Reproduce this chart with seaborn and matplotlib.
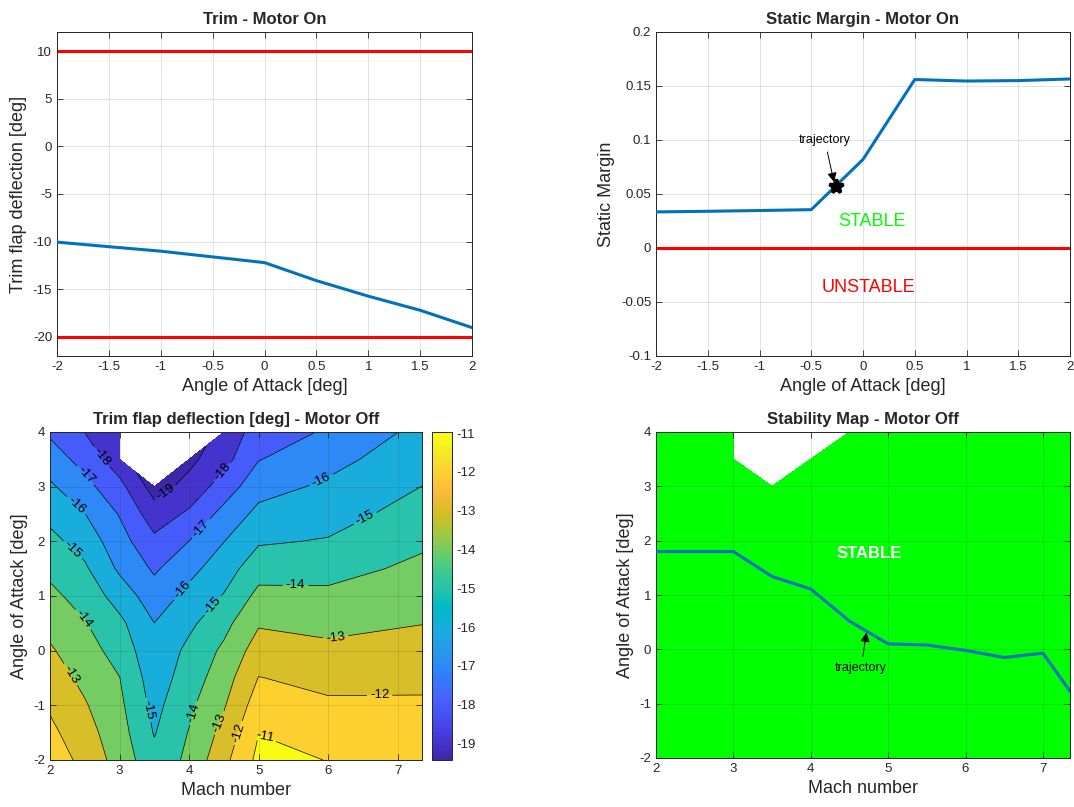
import numpy as np
import matplotlib
matplotlib.use("Agg")
import matplotlib.pyplot as plt
import seaborn as sns
from matplotlib.colors import LinearSegmentedColormap, Normalize
from matplotlib.cm import ScalarMappable
from matplotlib.ticker import FuncFormatter, MultipleLocator

# ---------------- data ----------------
aoa_on = [-2, -1.5, -1, -0.5, 0, 0.5, 1, 1.5, 2]
trim_on = [-10.05, -10.53, -11.0, -11.6, -12.2, -14.09, -15.72, -17.2, -19.02]
trim_limits = [10, -20]
static_margin_on = [0.0334, 0.0340, 0.0347, 0.0355, 0.082, 0.156, 0.1546, 0.155, 0.1565]
traj_aoa_on = -0.26
traj_sm_on = 0.057
stability_boundary = 0.0

mach = [2, 2.5, 3, 3.5, 4, 4.5, 5, 6, 7.35]
aoa_grid = [-2, -1.5, -1, -0.5, 0, 0.5, 1, 1.5, 2, 2.5, 3, 3.5, 4]
nan = np.nan
# rows: angle of attack (aoa_grid), columns: Mach number (mach)
trim_off = [
    [-11.41, -12.30, -13.40, -14.70, -13.77, -12.27, -10.75, -11.02, -11.15],
    [-11.77, -12.61, -13.59, -15.06, -13.95, -12.69, -11.02, -11.43, -11.50],
    [-12.13, -12.91, -13.79, -15.29, -14.21, -13.09, -11.49, -11.84, -11.86],
    [-12.51, -13.25, -13.98, -15.53, -14.52, -13.45, -11.97, -12.29, -12.23],
    [-12.88, -13.60, -14.37, -15.76, -14.75, -13.81, -12.53, -12.78, -12.63],
    [-13.31, -13.94, -14.77, -15.99, -15.21, -14.30, -13.10, -13.28, -13.02],
    [-13.76, -14.39, -15.42, -16.56, -15.71, -14.94, -13.73, -13.79, -13.40],
    [-14.24, -14.85, -16.17, -17.14, -16.29, -15.47, -14.41, -14.34, -13.78],
    [-14.73, -15.40, -16.61, -17.77, -16.99, -16.02, -15.11, -14.93, -14.17],
    [-15.27, -15.98, -17.06, -18.55, -17.83, -16.69, -15.73, -15.39, -14.59],
    [-15.85, -16.69, -17.69, -19.43, -18.67, -17.53, -16.38, -15.82, -14.99],
    [-16.49, -17.36, -18.60, nan, -19.25, -18.35, -17.04, -16.33, -15.35],
    [-17.16, -18.02, -18.80, nan, nan, -18.75, -17.50, -16.89, -15.70],
]
contour_levels = [-19, -18, -17, -16, -15, -14, -13, -12, -11]
color_limits = [-19.43, -10.97]

traj_mach = [2, 3, 3.5, 4, 4.5, 5, 5.5, 6, 6.5, 7, 7.35]
traj_aoa = [1.80, 1.80, 1.34, 1.11, 0.52, 0.10, 0.08, -0.02, -0.15, -0.07, -0.77]

# ---------------- style ----------------
sns.set_style("ticks")
plt.rcParams['font.family'] = ['Liberation Sans', 'DejaVu Sans']
plt.rcParams['axes.unicode_minus'] = False

parula_pts = [
    (0.2422, 0.1504, 0.6603), (0.2578, 0.1818, 0.7511), (0.2706, 0.2147, 0.8364),
    (0.2783, 0.2559, 0.8991), (0.2813, 0.3006, 0.9414), (0.2795, 0.3447, 0.9717),
    (0.2699, 0.3892, 0.9906), (0.2440, 0.4358, 0.9988), (0.1963, 0.4847, 0.9892),
    (0.1786, 0.5289, 0.9682), (0.1687, 0.5703, 0.9359), (0.1460, 0.6091, 0.9079),
    (0.1248, 0.6459, 0.8883), (0.0952, 0.6798, 0.8598), (0.0297, 0.7082, 0.8163),
    (0.0067, 0.7312, 0.7660), (0.0964, 0.7500, 0.7120), (0.1717, 0.7670, 0.6554),
    (0.2161, 0.7843, 0.5923), (0.2906, 0.7973, 0.5188), (0.3909, 0.8029, 0.4354),
    (0.5044, 0.7993, 0.3480), (0.6174, 0.7876, 0.2612), (0.7242, 0.7698, 0.1910),
    (0.8203, 0.7498, 0.1535), (0.9035, 0.7330, 0.1774), (0.9728, 0.7298, 0.2394),
    (0.9970, 0.7659, 0.2199), (0.9892, 0.8136, 0.1885), (0.9676, 0.8639, 0.1643),
    (0.9597, 0.9135, 0.1423), (0.9691, 0.9606, 0.1064), (0.9769, 0.9839, 0.0805),
]
parula = LinearSegmentedColormap.from_list("parula", parula_pts)

BLUE = '#0072BD'
AXC = '#262626'
TICK_FS = 9.5
LAB_FS = 13
TITLE_FS = 12

fmt = FuncFormatter(lambda v, p: f'{round(v, 6) + 0:g}')


def style_axes(ax, grid_on_top=False):
    ax.tick_params(direction='in', top=True, right=True, length=4, width=0.6,
                   colors=AXC, labelsize=TICK_FS, labelcolor=AXC)
    for s in ax.spines.values():
        s.set_color(AXC)
        s.set_linewidth(0.7)
    ax.grid(True, color=AXC, alpha=0.15, lw=0.6)
    ax.set_axisbelow(not grid_on_top)
    ax.xaxis.set_major_formatter(fmt)
    ax.yaxis.set_major_formatter(fmt)


W, H = 1074, 807
fig = plt.figure(figsize=(W / 100, H / 100), dpi=100)
ax1 = fig.add_axes([57 / W, 1 - 356 / H, 415 / W, 324 / H])
ax2 = fig.add_axes([656 / W, 1 - 356 / H, 414 / W, 324 / H])
ax3 = fig.add_axes([50 / W, 1 - 760 / H, 372 / W, 328 / H])
cax = fig.add_axes([432 / W, 1 - 760 / H, 20 / W, 328 / H])
ax4 = fig.add_axes([656 / W, 1 - 758 / H, 414 / W, 326 / H])

# ---- Trim - Motor On ----
for lim in trim_limits:
    ax1.axhline(lim, color='red', lw=2.2, zorder=2)
sns.lineplot(x=aoa_on, y=trim_on, ax=ax1, color=BLUE, lw=2.2, estimator=None, sort=False, zorder=3)
ax1.set_xlim(-2, 2)
ax1.set_ylim(-22, 12)
ax1.xaxis.set_major_locator(MultipleLocator(0.5))
ax1.yaxis.set_major_locator(MultipleLocator(5))
style_axes(ax1)
ax1.set_title('Trim - Motor On', fontsize=TITLE_FS, fontweight='bold')
ax1.set_xlabel('Angle of Attack [deg]', fontsize=LAB_FS, color=AXC)
ax1.set_ylabel('Trim flap deflection [deg]', fontsize=LAB_FS, color=AXC)

# ---- Static Margin - Motor On ----
ax2.axhline(stability_boundary, color='red', lw=2.2, zorder=2)
sns.lineplot(x=aoa_on, y=static_margin_on, ax=ax2, color=BLUE, lw=2.2, estimator=None, sort=False, zorder=3)
ax2.plot([traj_aoa_on], [traj_sm_on], marker='*', color='k', ms=10, mew=2.5, zorder=4)
ax2.annotate('trajectory', xy=(traj_aoa_on - 0.02, traj_sm_on + 0.004), xytext=(-0.37, 0.1),
             ha='center', va='center', fontsize=9, color='k',
             arrowprops=dict(arrowstyle='-|>', color='k', lw=0.7, mutation_scale=14,
                             shrinkA=2, shrinkB=0))
ax2.text(0.09, 0.025, 'STABLE', color='#00ff00', fontsize=LAB_FS, ha='center', va='center')
ax2.text(0.05, -0.0365, 'UNSTABLE', color='#ff0000', fontsize=LAB_FS, ha='center', va='center')
ax2.set_xlim(-2, 2)
ax2.set_ylim(-0.1, 0.2)
ax2.xaxis.set_major_locator(MultipleLocator(0.5))
ax2.yaxis.set_major_locator(MultipleLocator(0.05))
style_axes(ax2)
ax2.set_title('Static Margin - Motor On', fontsize=TITLE_FS, fontweight='bold')
ax2.set_xlabel('Angle of Attack [deg]', fontsize=LAB_FS, color=AXC)
ax2.set_ylabel('Static Margin', fontsize=LAB_FS, color=AXC)

# ---- Trim flap deflection - Motor Off (filled contour) ----
Z = np.ma.masked_invalid(np.array(trim_off, dtype=float))
MM, AA = np.meshgrid(mach, aoa_grid)
norm = Normalize(color_limits[0], color_limits[1], clip=True)
fill_levels = [float(Z.min()) - 0.01] + contour_levels + [float(Z.max()) + 0.01]
fill_colors = [parula(norm(l)) for l in fill_levels[:-1]]
ax3.contourf(MM, AA, Z, levels=fill_levels, colors=fill_colors, corner_mask=True, zorder=1)
cs = ax3.contour(MM, AA, Z, levels=contour_levels, colors='k', linewidths=0.5,
                 linestyles='solid', corner_mask=True, zorder=2)
label_pos = [
    (2.75, 3.55), (2.52, 3.22), (2.375, 2.65), (2.33, 1.85), (2.48, 0.57), (2.33, -0.41),
    (3.63, 2.95), (4.5, 3.25), (4.19, 2.21), (3.92, 1.09), (4.36, 0.81),
    (5.9, 3.13), (6.54, 2.40), (5.53, 1.18), (6.11, 0.23), (6.74, -0.84),
    (3.42, -1.08), (4.07, -1.14), (4.43, -1.32), (4.72, -1.51), (5.08, -1.6),
]
ax3.clabel(cs, manual=label_pos, inline=True, fontsize=9.5, colors='k',
           fmt=lambda v: f'{v:g}', inline_spacing=3)
ax3.set_xlim(2, 7.35)
ax3.set_ylim(-2, 4)
ax3.xaxis.set_major_locator(MultipleLocator(1))
ax3.yaxis.set_major_locator(MultipleLocator(1))
style_axes(ax3, grid_on_top=True)
ax3.set_title('Trim flap deflection [deg] - Motor Off', fontsize=TITLE_FS, fontweight='bold')
ax3.set_xlabel('Mach number', fontsize=LAB_FS, color=AXC)
ax3.set_ylabel('Angle of Attack [deg]', fontsize=LAB_FS, color=AXC)

cb = fig.colorbar(ScalarMappable(norm=Normalize(*color_limits), cmap=parula), cax=cax,
                  ticks=contour_levels)
cb.ax.yaxis.set_major_formatter(fmt)
cb.ax.tick_params(direction='in', length=3, width=0.6, colors=AXC, labelsize=TICK_FS)
cb.outline.set_edgecolor(AXC)
cb.outline.set_linewidth(0.7)

# ---- Stability Map - Motor Off ----
stable = np.ma.masked_invalid(np.where(np.isnan(np.array(trim_off, dtype=float)), np.nan, 1.0))
ax4.contourf(MM, AA, stable, levels=[0.5, 1.5], colors=['#00ff00'], corner_mask=True, zorder=1)
sns.lineplot(x=traj_mach, y=traj_aoa, ax=ax4, color=BLUE, lw=2.2, estimator=None, sort=False, zorder=3)
ax4.annotate('trajectory', xy=(4.72, 0.31), xytext=(4.65, -0.35),
             ha='center', va='center', fontsize=9, color='k',
             arrowprops=dict(arrowstyle='-|>', color='k', lw=0.7, mutation_scale=14,
                             shrinkA=2, shrinkB=0))
ax4.text(4.76, 1.76, 'STABLE', color='white', fontsize=12, fontweight='bold',
         ha='center', va='center')
ax4.set_xlim(2, 7.35)
ax4.set_ylim(-2, 4)
ax4.xaxis.set_major_locator(MultipleLocator(1))
ax4.yaxis.set_major_locator(MultipleLocator(1))
style_axes(ax4, grid_on_top=True)
ax4.set_title('Stability Map - Motor Off', fontsize=TITLE_FS, fontweight='bold')
ax4.set_xlabel('Mach number', fontsize=LAB_FS, color=AXC)
ax4.set_ylabel('Angle of Attack [deg]', fontsize=LAB_FS, color=AXC)

fig.savefig('out.png', dpi=100)
